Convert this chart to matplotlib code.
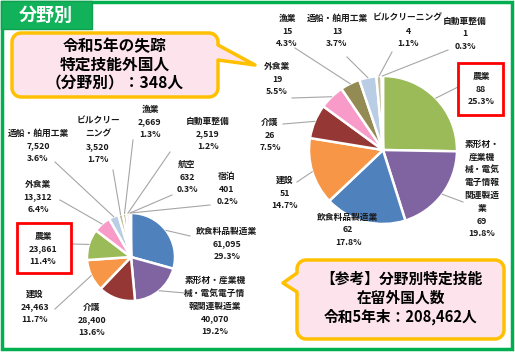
import numpy as np
import matplotlib.pyplot as plt
from matplotlib.patches import Rectangle, Polygon

plt.rcParams['font.family'] = ['Noto Sans CJK JP', 'DejaVu Sans']

# 令和5年末 在留外国人数 (left pie, clockwise from top)
left_names = ['飲食料品製造業', '素形材・産業機\n械・電気電子情\n報関連製造業', '介護', '建設', '農業',
              '外食業', '造船・舶用工業', 'ビルクリー\nニング', '漁業', '自動車整備', '航空', '宿泊']
left_values = [61095, 40070, 28400, 24463, 23861, 13312, 7520, 3520, 2669, 2519, 632, 401]
left_pct = ['29.3%', '19.2%', '13.6%', '11.7%', '11.4%', '6.4%', '3.6%', '1.7%', '1.3%', '1.2%', '0.3%', '0.2%']

# 令和5年の失踪 (right pie, clockwise from top)
right_names = ['農業', '素形材・\n産業機\n械・電気\n電子情報\n関連製造\n業', '飲食料品製造業', '建設', '介護',
               '外食業', '漁業', '造船・舶用工業', 'ビルクリーニング', '自動車整備']
right_values = [88, 69, 62, 51, 26, 19, 15, 13, 4, 1]
right_pct = ['25.3%', '19.8%', '17.8%', '14.7%', '7.5%', '5.5%', '4.3%', '3.7%', '1.1%', '0.3%']

col = {'飲食料品': '#4F81BD', '素形材': '#8064A2', '介護': '#953735', '建設': '#F79646',
       '農業': '#9BBB59', '外食業': '#F99BC8', '造船': '#B9CDE5', 'ビルク': '#C4BD97',
       '漁業': '#948A54', '自動車': '#D9D9D9', '航空': '#CCC1DA', '宿泊': '#E6B9B8'}

def colors_for(names):
    out = []
    for n in names:
        for k, c in col.items():
            if n.startswith(k):
                out.append(c)
                break
    return out

fig = plt.figure(figsize=(5.15, 3.53), dpi=100)
ax = fig.add_axes([0, 0, 1, 1])

# label centres and leader end points (pixels)
left_lab = [(227, 244), (215, 306), (92, 320), (35, 307), (43, 249), (38, 197),
            (38, 146), (98, 140), (150, 122), (208, 134), (187, 177), (227, 189)]
left_lead = [(190, 236), (185, 293), None, (55, 309), (71, 244), (60, 200),
             (55, 162), (113, 170), (133, 140), (170, 152), (172, 195), (210, 205)]
right_lab = [(481, 89), (482, 189), (348, 230), (285, 193), (270, 135), (277, 79),
             (287, 31), (337, 31), (408, 31), (465, 34)]
right_lead = [(458, 87), (463, 202), None, (297, 182), (283, 124), (292, 98),
              (295, 48), (347, 57), (392, 52), (448, 50)]


def draw_pie(values, names, pcts, center, r, labs, leads, fmt):
    wedges, _ = ax.pie(values, colors=colors_for(names), startangle=-90, counterclock=True,
                       center=center, radius=r,
                       wedgeprops=dict(edgecolor='white', linewidth=1.8))
    for w, n, v, p, lab, lead in zip(wedges, names, values, pcts, labs, leads):
        ax.text(lab[0], lab[1], n + '\n' + fmt(v) + '\n' + p, ha='center', va='center',
                fontsize=6.3, fontweight='bold', linespacing=1.55, color='#1a1a1a')
        if lead is not None:
            a = np.deg2rad((w.theta1 + w.theta2) / 2)
            sx, sy = center[0] + r * np.cos(a), center[1] + r * np.sin(a)
            ax.plot([sx, lead[0]], [sy, lead[1]], color='#A6A6A6', lw=0.8, zorder=1)


draw_pie(left_values, left_names, left_pct, (131, 257), 44, left_lab, left_lead, lambda v: f'{v:,}')
draw_pie(right_values, right_names, right_pct, (383, 150), 74, right_lab, right_lead, lambda v: str(v))

# red boxes around 農業
ax.add_patch(Rectangle((17, 223), 54, 50, fill=False, edgecolor='#FF0000', lw=2))
ax.add_patch(Rectangle((458, 63), 45, 52, fill=False, edgecolor='#FF0000', lw=2))


def callout(x0, y0, x1, y1, rad, tail, side):
    pts = []
    def arc(cx, cy, a0, a1):
        t = np.deg2rad(np.linspace(a0, a1, 10))
        pts.extend(zip(cx + rad * np.cos(t), cy + rad * np.sin(t)))
    arc(x1 - rad, y0 + rad, -90, 0)
    if side == 'right':
        pts.extend(tail)
    arc(x1 - rad, y1 - rad, 0, 90)
    arc(x0 + rad, y1 - rad, 90, 180)
    if side == 'left':
        pts.extend(tail)
    arc(x0 + rad, y0 + rad, 180, 270)
    ax.add_patch(Polygon(pts, closed=True, facecolor='#FDE4EC', edgecolor='#FFC000',
                         lw=2.5, joinstyle='round', zorder=3))


callout(12, 33, 218, 97, 9, [(218, 45), (255, 65), (218, 60)], 'right')
ax.text(115, 65, '令和5年の失踪\n特定技能外国人\n（分野別）：348人', ha='center', va='center',
        fontsize=11.3, fontweight='bold', linespacing=1.2, zorder=4)

callout(297, 260, 504, 339, 9, [(297, 292), (283, 283), (297, 273)], 'left')
ax.text(401, 298, '【参考】分野別特定技能\n在留外国人数\n令和5年末：208,462人', ha='center', va='center',
        fontsize=10.6, fontweight='bold', linespacing=1.25, zorder=4)

# frame and tab
ax.add_patch(Rectangle((2, 2), 509.5, 346.5, fill=False, edgecolor='#00B050', lw=2.5))
ax.add_patch(Rectangle((1, 1), 91, 28, facecolor='#12B25A', edgecolor='#0FA050', lw=1))
ax.text(46, 15, '分野別', ha='center', va='center', fontsize=13, fontweight='bold', color='white')

ax.set_xlim(0, 515)
ax.set_ylim(353, 0)
ax.set_aspect('equal')
ax.axis('off')
fig.savefig('out.png', dpi=100, facecolor='white')
